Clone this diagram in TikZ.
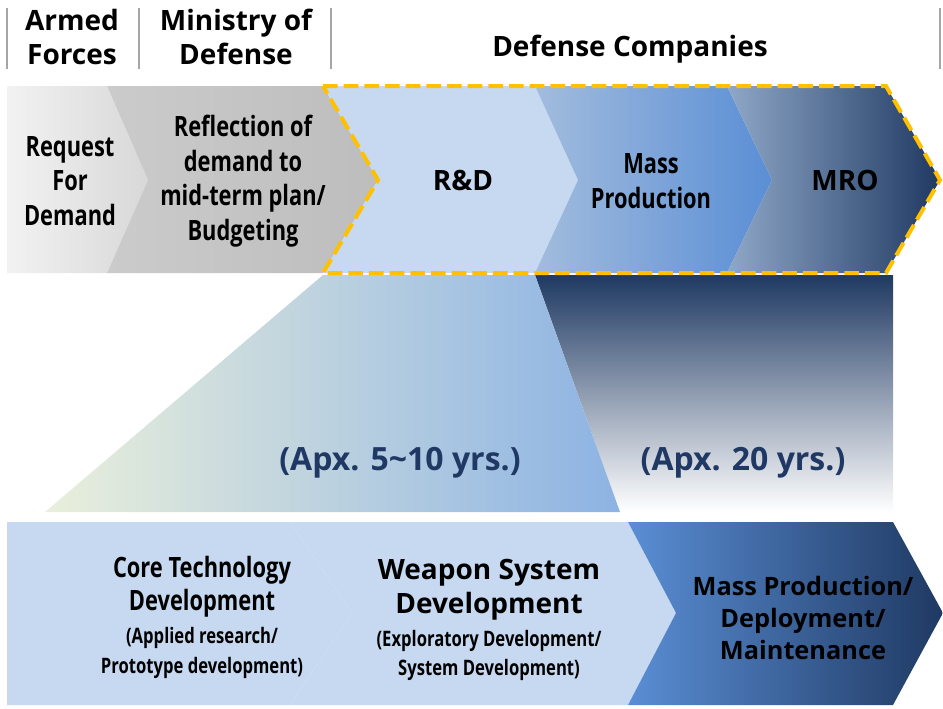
\documentclass[tikz,border=0pt]{standalone}
\usepackage{fontspec}
\setmainfont{Open Sans}
\newfontfamily\narrowfont{Open Sans}[FakeStretch=0.78]
\usetikzlibrary{positioning}
\definecolor{grayA}{HTML}{F2F2F2}
\definecolor{grayB}{HTML}{D8D8D8}
\definecolor{grayC}{HTML}{CBCBCB}
\definecolor{grayD}{HTML}{BDBDBD}
\definecolor{paleblue}{HTML}{C6D9F0}
\definecolor{midblue}{HTML}{A2BCDD}
\definecolor{brightblue}{HTML}{5A8ED5}
\definecolor{steel}{HTML}{8FA8C8}
\definecolor{navy}{HTML}{1F3962}
\definecolor{palegreen}{HTML}{E9EFDB}
\definecolor{skyblue}{HTML}{8DB3E3}
\definecolor{gold}{HTML}{FFC000}
\definecolor{bar}{HTML}{A6A6A6}
\definecolor{labelnavy}{HTML}{1F3864}
\tikzset{%
  head/.style    = {font=\fontsize{21}{26}\selectfont\bfseries,%
                    align=center, inner sep=0pt},%
  stage/.style   = {head, font=\narrowfont\fontsize{21}{26}\selectfont\bfseries},%
  note/.style    = {head, font=\narrowfont\fontsize{16}{22}\selectfont\bfseries},%
  span/.style    = {head, font=\fontsize{24}{28}\selectfont\bfseries, text=labelnavy},%
  divider/.style = {draw=bar, line width=2.2pt},%
  outline/.style = {draw=gold, line width=3pt, line join=miter,%
                    dash pattern=on 11pt off 4.5pt}%
}
\begin{document}
\begin{tikzpicture}[x=0.75pt,y=-0.75pt]
	\useasboundingbox (0,0) rectangle (943,708);
	\foreach \x in {7,139,331,940}
		\draw[divider] (\x,8) -- (\x,69);
	\node[head] (hArmed) at (72,37) {Armed\\Forces};
	\node[head] (hMinistry) at (236,37) {Ministry of\\Defense};
	\node[head,anchor=base] (hCompanies) at (630,56) {Defense Companies};
	\shade[top color=navy, bottom color=white] (535,275) -- (893,275) -- (893,512) -- (620,512) -- cycle;
	\shade[left color=palegreen, right color=skyblue] (323,275) -- (535,275) -- (620,512) -- (45,512) -- cycle;
	\shade[left color=grayA, right color=grayB] (7,86) -- (107,86) -- (148,180) -- (107,273) -- (7,273) -- cycle;
	\shade[left color=grayC, right color=grayD] (107,86) -- (323,86) -- (378,180) -- (323,273) -- (107,273) -- (148,180) -- cycle;
	\fill[paleblue] (323,86) -- (535,86) -- (578,180) -- (535,273) -- (323,273) -- (378,180) -- cycle;
	\shade[left color=midblue, right color=brightblue] (535,86) -- (727,86) -- (772,180) -- (727,273) -- (535,273) -- (578,180) -- cycle;
	\shade[left color=steel, right color=navy] (727,86) -- (886,86) -- (940,180) -- (886,273) -- (727,273) -- (772,180) -- cycle;
	\draw[outline] (323,86) -- (886,86) -- (940,180) -- (886,273) -- (323,273) -- (378,180) -- cycle;
	\fill[paleblue] (7,522) -- (290,522) -- (352,613) -- (290,705) -- (7,705) -- cycle;
	\fill[paleblue] (290,522) -- (628,522) -- (676,613) -- (628,705) -- (290,705) -- (352,613) -- cycle;
	\shade[left color=brightblue, right color=navy] (628,522) -- (893,522) -- (943,613) -- (893,705) -- (628,705) -- (676,613) -- cycle;
	\node[stage] (nRequest) at (70,181) {Request\\For\\Demand};
	\node[stage] (nReflect) at (243,181) {Reflection of\\demand to\\mid-term plan/\\Budgeting};
	\node[head,anchor=base] (nRD) at (463,190) {R\&D};
	\node[stage] (nMass) at (651,181) {Mass\\Production};
	\node[head,anchor=base] (nMRO) at (845,190) {MRO};
	\node[span,anchor=base] (nShort) at (400,470) {(Apx. 5\textasciitilde10 yrs.)};
	\node[span,anchor=base] (nLong) at (743,470) {(Apx. 20 yrs.)};
	\node[stage,font=\narrowfont\fontsize{21}{25}\selectfont\bfseries] (coreTitle) at (202,587) {Core Technology\\Development};
	\node[note,below=7pt of coreTitle] (coreSub) {(Applied research/\\Prototype development)};
	\node[head,font=\fontsize{21}{25.5}\selectfont\bfseries] (weaponTitle) at (489,590) {Weapon System\\Development};
	\node[note,below=7pt of weaponTitle] (weaponSub) {(Exploratory Development/\\System Development)};
	\node[head,font=\fontsize{19}{24}\selectfont\bfseries] (nDeploy) at (803,618) {Mass Production/\\Deployment/\\Maintenance};
\end{tikzpicture}
\end{document}
